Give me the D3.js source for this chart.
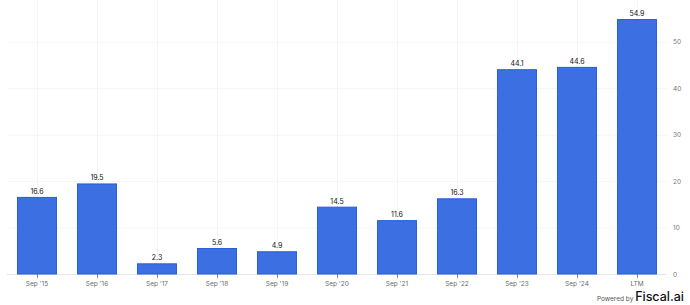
<!DOCTYPE html>
<html>
<head>
<meta charset="utf-8">
<script src="https://cdn.jsdelivr.net/npm/d3@7"></script>
<style>
  body { margin: 0; background: #fff; }
  svg { display: block; font-family: Inter, "Noto Sans", sans-serif; }
</style>
</head>
<body>
<div id="chart"></div>
<script>
// datos
const PERIODOS = ["Sep '15", "Sep '16", "Sep '17", "Sep '18", "Sep '19", "Sep '20", "Sep '21", "Sep '22", "Sep '23", "Sep '24", "LTM"];
const VALORES = [16.6, 19.5, 2.3, 5.6, 4.9, 14.5, 11.6, 16.3, 44.1, 44.6, 54.9];
const TICKS_Y = [0, 10, 20, 30, 40, 50];

const WIDTH = 690;
const HEIGHT = 305;
const MARGIN = { top: 0, bottom: 31, left: 7, right: 23 };

const SVG = d3.select("#chart").append("svg")
  .attr("width", WIDTH).attr("height", HEIGHT);

const x = d3.scaleBand()
  .domain(PERIODOS)
  .range([MARGIN.left, WIDTH - MARGIN.right])
  .paddingInner(0.333)
  .paddingOuter(0.1665);

const y = d3.scaleLinear()
  .domain([0, 59])
  .range([HEIGHT - MARGIN.bottom, MARGIN.top]);

const y0 = y(0);

// grilla horizontal
SVG.append("g").selectAll("line").data(TICKS_Y.filter(d => d > 0)).join("line")
  .attr("x1", MARGIN.left).attr("x2", WIDTH - MARGIN.right)
  .attr("y1", d => y(d) + 0.5).attr("y2", d => y(d) + 0.5)
  .attr("stroke", "#f4f4f4").attr("stroke-width", 1);

// grilla vertical
SVG.append("g").selectAll("line").data(PERIODOS).join("line")
  .attr("x1", d => Math.round(x(d) + x.bandwidth() / 2) + 0.5)
  .attr("x2", d => Math.round(x(d) + x.bandwidth() / 2) + 0.5)
  .attr("y1", MARGIN.top).attr("y2", y0)
  .attr("stroke", "#f4f4f4").attr("stroke-width", 1);

// eje x
SVG.append("line")
  .attr("x1", MARGIN.left).attr("x2", WIDTH - MARGIN.right)
  .attr("y1", y0 + 0.5).attr("y2", y0 + 0.5)
  .attr("stroke", "#e6e6e6");

SVG.append("g").selectAll("line").data(PERIODOS).join("line")
  .attr("x1", d => Math.round(x(d) + x.bandwidth() / 2) + 0.5)
  .attr("x2", d => Math.round(x(d) + x.bandwidth() / 2) + 0.5)
  .attr("y1", y0).attr("y2", y0 + 4)
  .attr("stroke", "#888");

SVG.append("g").selectAll("text").data(PERIODOS).join("text")
  .attr("x", d => x(d) + x.bandwidth() / 2)
  .attr("y", y0 + 12)
  .attr("text-anchor", "middle")
  .attr("font-size", 6.5)
  .attr("fill", "#6b6b6b")
  .text(d => d);

// eje y a la derecha
SVG.append("g").selectAll("text").data(TICKS_Y).join("text")
  .attr("x", WIDTH - MARGIN.right + 6)
  .attr("y", d => y(d) + 2.5)
  .attr("font-size", 6.5)
  .attr("fill", "#777")
  .text(d => d);

// barras
SVG.append("g").selectAll("rect").data(VALORES).join("rect")
  .attr("x", (d, i) => x(PERIODOS[i]) + 0.5)
  .attr("y", d => y(d) + 0.5)
  .attr("width", x.bandwidth() - 1)
  .attr("height", d => y0 - y(d) - 0.5)
  .attr("fill", "#3c6fe1")
  .attr("stroke", "#2a5de0")
  .attr("stroke-width", 1);

// etiquetas de valor
SVG.append("g").selectAll("text").data(VALORES).join("text")
  .attr("x", (d, i) => x(PERIODOS[i]) + x.bandwidth() / 2)
  .attr("y", d => y(d) - 3)
  .attr("text-anchor", "middle")
  .attr("font-size", 7)
  .attr("fill", "#111")
  .text(d => d.toFixed(1));

// marca de agua
const marca = SVG.append("text")
  .attr("x", 684).attr("y", 301)
  .attr("text-anchor", "end");
marca.append("tspan").attr("font-size", 6.5).attr("fill", "#555").text("Powered by ");
marca.append("tspan").attr("font-size", 12.5).attr("fill", "#111").attr("font-weight", 500).text("Fiscal.ai");
</script>
</body>
</html>
